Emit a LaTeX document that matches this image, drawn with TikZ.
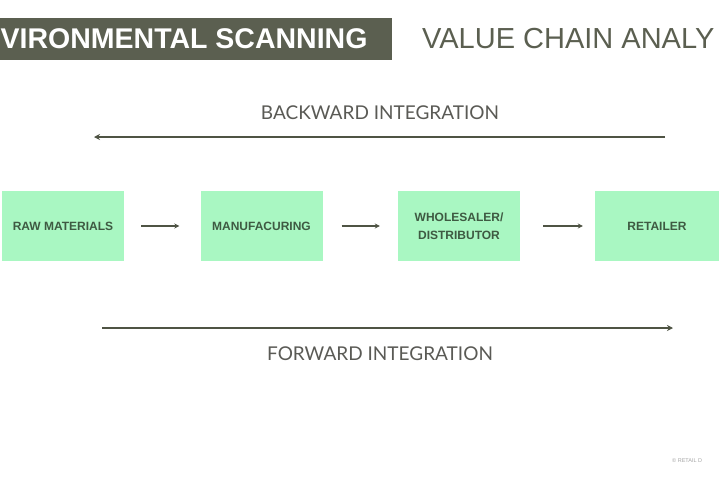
\documentclass[tikz,border=0pt]{standalone}
\usepackage{fontspec}
\setmainfont{Liberation Sans}
\newfontfamily\latofont{Lato}
\usetikzlibrary{arrows.meta}
\definecolor{hdrbg}{HTML}{5B5F50}
\definecolor{boxfill}{HTML}{A9F7C2}
\definecolor{boxtext}{HTML}{3E5A42}
\definecolor{linecol}{HTML}{4F5444}
\definecolor{labelcol}{HTML}{5A5A55}
\tikzset{
  stagebox/.style={fill=boxfill, draw=none, minimum width=122pt, minimum height=70pt, inner sep=0pt,
    align=center, text=boxtext, font=\bfseries\fontsize{12}{18}\selectfont},
  flowarrow/.style={draw=linecol, line width=1.3pt, -{Stealth[length=5pt,width=5pt]}},
  longarrow/.style={draw=linecol, line width=1.4pt, -{Stealth[length=6pt,width=6pt]}},
  sidelabel/.style={text=labelcol, font=\latofont\fontsize{19}{19}\selectfont, inner sep=0pt}
}
\begin{document}
\begin{tikzpicture}[x=1pt,y=-1pt]
\useasboundingbox (0,0) rectangle (720,480);
\fill[white] (0,0) rectangle (720,480);
% header
\node[fill=hdrbg, minimum width=392pt, minimum height=42pt, inner sep=0pt, anchor=north west] (hdr) at (0,18) {};
\node[text=white, font=\bfseries\fontsize{28.5}{28.5}\selectfont, anchor=west, inner sep=0pt] (hdrtext) at (0.5,39) {VIRONMENTAL SCANNING};
\node[text=hdrbg, font=\fontsize{29}{29}\selectfont, anchor=west, inner sep=0pt] (title) at (422,39) {VALUE CHAIN ANALY};
% labels
\node[sidelabel] (bwlabel) at (380,113) {BACKWARD INTEGRATION};
\node[sidelabel] (fwlabel) at (380,354) {FORWARD INTEGRATION};
% long arrows
\coordinate (bwstart) at (665,137);
\coordinate (bwend) at (94,137);
\coordinate (fwstart) at (102,328);
\coordinate (fwend) at (673,328);
\draw[longarrow] (bwstart) -- (bwend);
\draw[longarrow] (fwstart) -- (fwend);
% boxes
\node[stagebox] (raw) at (63,226) {RAW MATERIALS};
\node[stagebox] (man) at (261.5,226) {MANUFACURING};
\node[stagebox] (whl) at (459,226) {WHOLESALER/\\DISTRIBUTOR};
\node[stagebox, minimum width=124pt] (ret) at (657,226) {RETAILER};
\draw[flowarrow] ([xshift=17pt]raw.east) -- ([xshift=-21pt]man.west);
\draw[flowarrow] ([xshift=19pt]man.east) -- ([xshift=-18pt]whl.west);
\draw[flowarrow] ([xshift=23pt]whl.east) -- ([xshift=-12pt]ret.west);
% footer
\node[text=gray!70, font=\fontsize{5.5}{5.5}\selectfont, anchor=west, inner sep=0pt] (foot) at (672,461) {\textcopyright\ RETAIL D};
\end{tikzpicture}
\end{document}
